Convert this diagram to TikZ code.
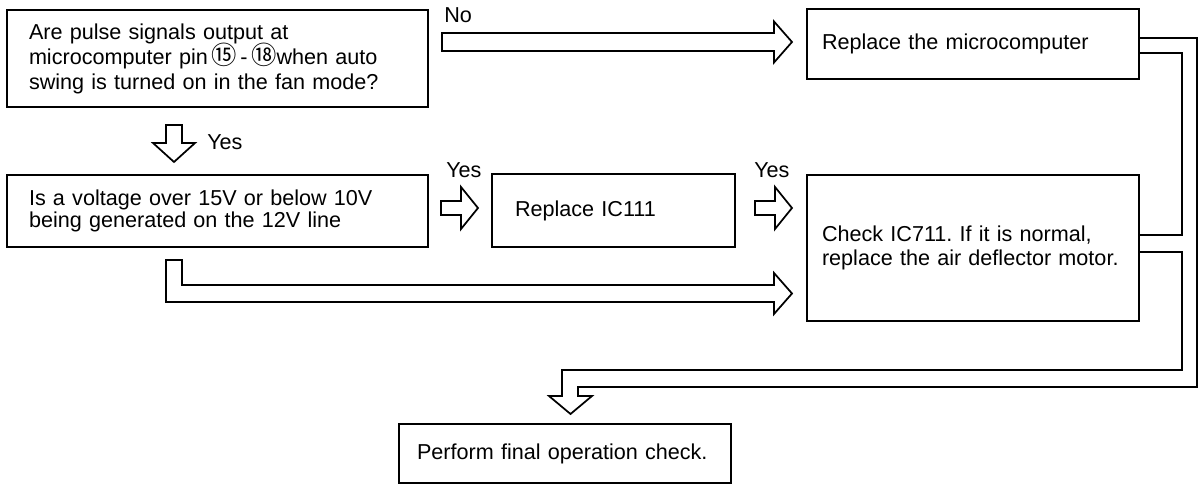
\documentclass[tikz,border=0pt]{standalone}
\usepackage{fontspec}
\setmainfont{Liberation Sans}
\newfontfamily\cjk{Noto Sans CJK SC}
\usetikzlibrary{calc}
\frenchspacing

% circled pin numbers
\newcommand{\pin}[1]{\smash{\cjk\fontsize{19pt}{19pt}\selectfont #1}}

% hollow block arrows: tail, tip, half shaft, half head, head length
\newcommand{\fatright}[5]{%
	\draw[hollow] ($(#1)+(0,-#3)$) -- ($(#2)+(-#5,-#3)$) -- ($(#2)+(-#5,-#4)$) -- (#2)
		-- ($(#2)+(-#5,#4)$) -- ($(#2)+(-#5,#3)$) -- ($(#1)+(0,#3)$) -- cycle;}
\newcommand{\fatdown}[5]{%
	\draw[hollow] ($(#1)+(-#3,0)$) -- ($(#2)+(-#3,-#5)$) -- ($(#2)+(-#4,-#5)$) -- (#2)
		-- ($(#2)+(#4,-#5)$) -- ($(#2)+(#3,-#5)$) -- ($(#1)+(#3,0)$) -- cycle;}

\begin{document}
\begin{tikzpicture}[x=0.75pt,y=-0.75pt,font=\fontsize{16.2pt}{18.75pt}\selectfont]

	\tikzstyle{box}=[draw,rectangle,line width=1.3pt,outer sep=0pt,align=left]
	\tikzstyle{hollow}=[draw,fill=white,line width=1.3pt,line join=miter]
	\tikzstyle{lbl}=[anchor=west,inner sep=0pt]

	\useasboundingbox (0,0) rectangle (1198,484);

	\node[box,minimum width=315.75pt,minimum height=72.75pt,inner xsep=16.5pt,text width=282.75pt] (q1) at (217.5,58.5)
		{Are pulse signals output at\\ microcomputer pin\,\pin{⑮}\,-\,\pin{⑱}when auto\\ swing is turned on in the fan mode?};
	\node[box,minimum width=249pt,minimum height=52.5pt,inner xsep=11.25pt,text width=226.5pt] (repmc) at (973,44)
		{Replace the microcomputer};
	\node[box,minimum width=315.75pt,minimum height=54pt,inner xsep=16.5pt,text width=282.75pt,
		font=\fontsize{16.2pt}{16.5pt}\selectfont] (q2) at (217.5,211)
		{Is a voltage over 15V or below 10V\\ being generated on the 12V line};
	\node[box,minimum width=182.25pt,minimum height=54.75pt,inner xsep=17.25pt,text width=147.75pt] (repic) at (613.5,210.5)
		{Replace IC111};
	\node[box,minimum width=249pt,minimum height=109.5pt,inner xsep=11.25pt,text width=226.5pt,
		font=\fontsize{16.2pt}{18pt}\selectfont] (chk) at (973,248)
		{Check IC711. If it is normal,\\ replace the air deflector motor.};
	\node[box,minimum width=249pt,minimum height=44.25pt,inner xsep=13.5pt,text width=222pt] (fin) at (565,453.5)
		{Perform final operation check.};

	% arrow ends
	\coordinate (noA) at (442,42);    \coordinate (noB) at (792,42);
	\coordinate (ysA) at (174,125);   \coordinate (ysB) at (174,162);
	\coordinate (y1A) at (441,208);   \coordinate (y1B) at (478,208);
	\coordinate (y2A) at (755,208);   \coordinate (y2B) at (792,208);

	\fatright{noA}{noB}{9}{20.5}{18}
	\fatdown{ysA}{ysB}{8}{21}{19}
	\fatright{y1A}{y1B}{7}{21}{17}
	\fatright{y2A}{y2B}{7}{21}{17}

	% from q2 round the bottom into chk
	\draw[hollow] (166,260) -- (182,260) -- (182,285) -- (774,285) -- (774,273) -- ($(chk.west |- 0,293.5)+(-15,0)$)
		-- (774,314) -- (774,302) -- (166,302) -- cycle;

	% both repairs merge and run down to the final check
	\draw[line width=1.3pt,line join=miter] (repmc.east |- 0,38) -- (1197,38) -- (1197,387) -- (578,387) -- (578,396)
		-- (592,396) -- ($(fin.north)+(5.5,-10)$) -- (549,396) -- (562,396) -- (562,370) -- (1182,370)
		-- (1182,252) -- (chk.east |- 0,252);
	\draw[line width=1.3pt,line join=miter] (chk.east |- 0,235) -- (1182,235) -- (1182,53) -- (repmc.east |- 0,53);

	\node[lbl] (no) at (444,15.5) {No};
	\node[lbl] (yes0) at (207,142) {Yes};
	\node[lbl] (yes1) at (446,170) {Yes};
	\node[lbl] (yes2) at (754,170) {Yes};

\end{tikzpicture}
\end{document}
